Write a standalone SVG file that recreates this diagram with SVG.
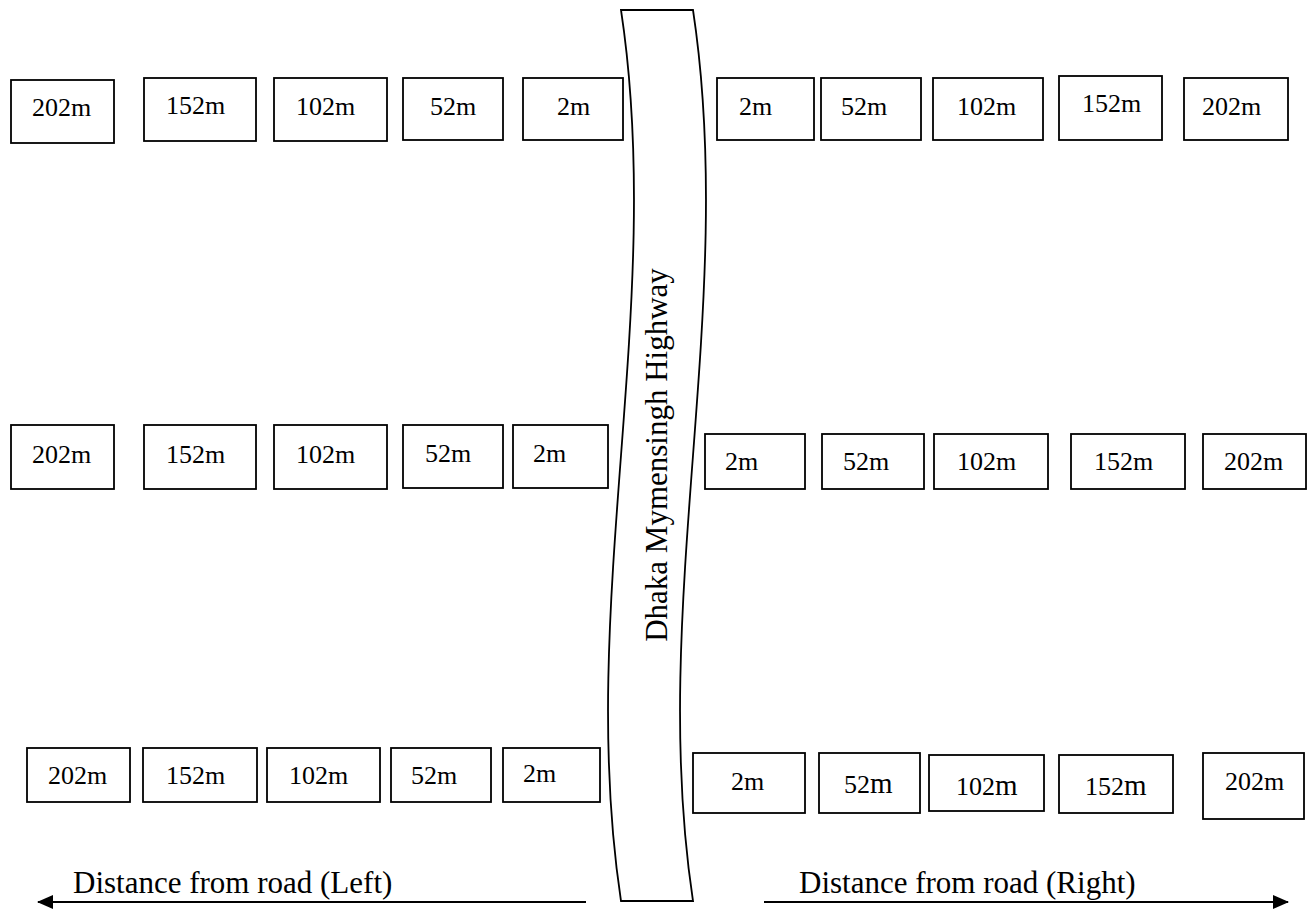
<svg xmlns="http://www.w3.org/2000/svg" width="1310" height="911" viewBox="0 0 1310 911">
  <style>
    .plot { fill: #ffffff; stroke: #000000; stroke-width: 1.8; }
    .lbl { font-family: "Liberation Serif", "Times New Roman", serif; font-size: 26px; fill: #000000; }
    .big { font-size: 29px; }
    .road { fill: #ffffff; stroke: #000000; stroke-width: 1.8; }
    .roadlbl { font-family: "Liberation Serif", "Times New Roman", serif; font-size: 31px; fill: #000000; }
    .axis { stroke: #000000; stroke-width: 2.2; fill: none; }
    .axislbl { font-family: "Liberation Serif", "Times New Roman", serif; font-size: 31px; fill: #000000; }
  </style>
  <defs>
    <marker id="head" viewBox="0 0 16 14" refX="15" refY="7" markerWidth="16" markerHeight="14" markerUnits="userSpaceOnUse" orient="auto">
      <path d="M0,0 L16,7 L0,14 Z" fill="#000000"/>
    </marker>
  </defs>
  <rect width="1310" height="911" fill="#ffffff"/>

  <!-- Highway -->
  <g id="highway">
    <path class="road" d="M621,10 L693,10 C738,307 648,604 693,901 L621,901 C576,604 666,307 621,10 Z"/>
    <text class="roadlbl" transform="translate(667,455) rotate(-90)" text-anchor="middle">Dhaka Mymensingh Highway</text>
  </g>

  <!-- Top row, left side -->
  <g id="top-left-202"><rect class="plot" x="11" y="80" width="103" height="63"/><text class="lbl" x="32" y="116">202m</text></g>
  <g id="top-left-152"><rect class="plot" x="144" y="78" width="112" height="63"/><text class="lbl" x="166" y="114">152m</text></g>
  <g id="top-left-102"><rect class="plot" x="274" y="78" width="113" height="63"/><text class="lbl" x="296" y="115">102m</text></g>
  <g id="top-left-52"><rect class="plot" x="403" y="78" width="100" height="62"/><text class="lbl" x="430" y="115">52m</text></g>
  <g id="top-left-2"><rect class="plot" x="523" y="78" width="100" height="62"/><text class="lbl" x="557" y="115">2m</text></g>

  <!-- Top row, right side -->
  <g id="top-right-2"><rect class="plot" x="717" y="78" width="97" height="62"/><text class="lbl" x="739" y="115">2m</text></g>
  <g id="top-right-52"><rect class="plot" x="821" y="78" width="100" height="62"/><text class="lbl" x="841" y="115">52m</text></g>
  <g id="top-right-102"><rect class="plot" x="933" y="78" width="110" height="62"/><text class="lbl" x="957" y="115">102m</text></g>
  <g id="top-right-152"><rect class="plot" x="1059" y="76" width="103" height="64"/><text class="lbl" x="1082" y="112">152m</text></g>
  <g id="top-right-202"><rect class="plot" x="1184" y="78" width="104" height="62"/><text class="lbl" x="1202" y="115">202m</text></g>

  <!-- Middle row, left side -->
  <g id="mid-left-202"><rect class="plot" x="11" y="425" width="103" height="64"/><text class="lbl" x="32" y="463">202m</text></g>
  <g id="mid-left-152"><rect class="plot" x="144" y="425" width="112" height="64"/><text class="lbl" x="166" y="463">152m</text></g>
  <g id="mid-left-102"><rect class="plot" x="274" y="425" width="113" height="64"/><text class="lbl" x="296" y="463">102m</text></g>
  <g id="mid-left-52"><rect class="plot" x="403" y="425" width="100" height="63"/><text class="lbl" x="425" y="462">52m</text></g>
  <g id="mid-left-2"><rect class="plot" x="513" y="425" width="95" height="63"/><text class="lbl" x="533" y="462">2m</text></g>

  <!-- Middle row, right side -->
  <g id="mid-right-2"><rect class="plot" x="705" y="434" width="100" height="55"/><text class="lbl" x="725" y="470">2m</text></g>
  <g id="mid-right-52"><rect class="plot" x="822" y="434" width="102" height="55"/><text class="lbl" x="843" y="470">52m</text></g>
  <g id="mid-right-102"><rect class="plot" x="934" y="434" width="114" height="55"/><text class="lbl" x="957" y="470">102m</text></g>
  <g id="mid-right-152"><rect class="plot" x="1071" y="434" width="114" height="55"/><text class="lbl" x="1094" y="470">152m</text></g>
  <g id="mid-right-202"><rect class="plot" x="1203" y="434" width="103" height="55"/><text class="lbl" x="1224" y="470">202m</text></g>

  <!-- Bottom row, left side -->
  <g id="bot-left-202"><rect class="plot" x="27" y="748" width="103" height="54"/><text class="lbl" x="48" y="784">202m</text></g>
  <g id="bot-left-152"><rect class="plot" x="143" y="748" width="114" height="54"/><text class="lbl" x="166" y="784">152m</text></g>
  <g id="bot-left-102"><rect class="plot" x="267" y="748" width="113" height="54"/><text class="lbl" x="289" y="784">102m</text></g>
  <g id="bot-left-52"><rect class="plot" x="391" y="748" width="100" height="54"/><text class="lbl" x="411" y="784">52m</text></g>
  <g id="bot-left-2"><rect class="plot" x="503" y="748" width="97" height="54"/><text class="lbl" x="523" y="782">2m</text></g>

  <!-- Bottom row, right side -->
  <g id="bot-right-2"><rect class="plot" x="693" y="753" width="112" height="60"/><text class="lbl" x="731" y="790">2m</text></g>
  <g id="bot-right-52"><rect class="plot" x="819" y="753" width="101" height="60"/><text class="lbl" x="844" y="793">52<tspan class="big">m</tspan></text></g>
  <g id="bot-right-102"><rect class="plot" x="929" y="755" width="115" height="56"/><text class="lbl" x="956" y="795">102<tspan class="big">m</tspan></text></g>
  <g id="bot-right-152"><rect class="plot" x="1059" y="755" width="114" height="58"/><text class="lbl" x="1085" y="795">152<tspan class="big">m</tspan></text></g>
  <g id="bot-right-202"><rect class="plot" x="1203" y="753" width="101" height="66"/><text class="lbl" x="1225" y="790">202m</text></g>

  <!-- Distance axes -->
  <g id="connectors">
    <line class="axis" x1="586" y1="902" x2="38" y2="902" marker-end="url(#head)"/>
    <line class="axis" x1="764" y1="902" x2="1288" y2="902" marker-end="url(#head)"/>
  </g>
  <g id="axis-labels">
    <text class="axislbl" x="73" y="893">Distance from road (Left)</text>
    <text class="axislbl" x="799" y="893">Distance from road (Right)</text>
  </g>
</svg>
